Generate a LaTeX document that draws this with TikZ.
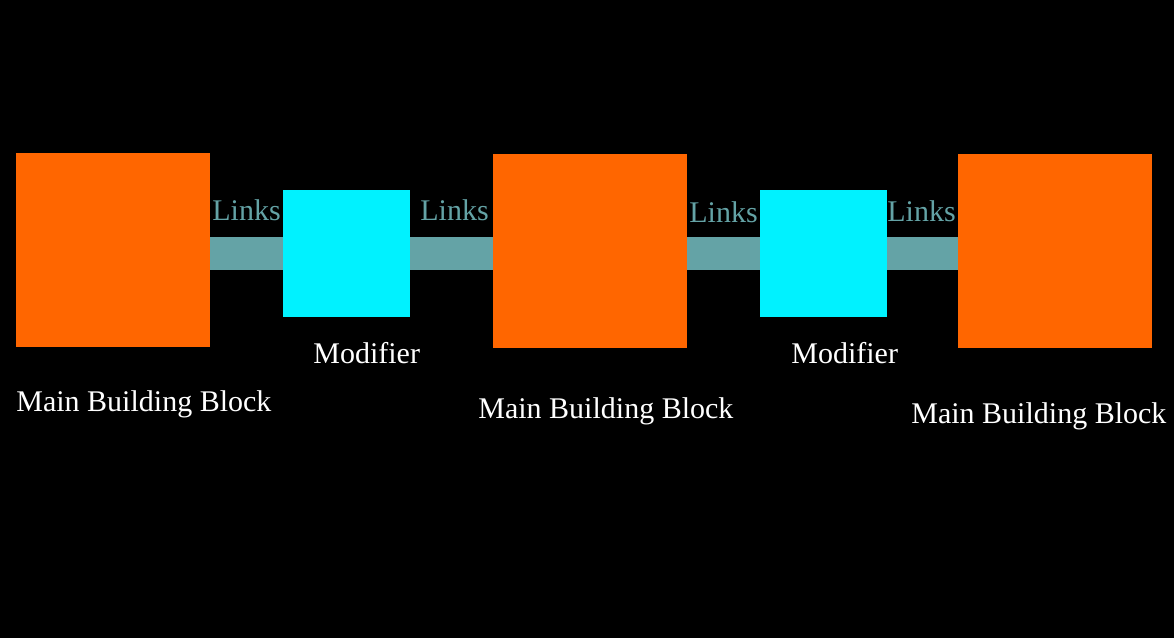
\documentclass[tikz,border=0pt]{standalone}
\usepackage{fontspec}
\setmainfont{Liberation Serif}
\definecolor{blockorange}{HTML}{FF6600}
\definecolor{modcyan}{HTML}{00F2FF}
\definecolor{linkteal}{HTML}{64A3A6}
\begin{document}
\begin{tikzpicture}[x=0.5pt,y=-0.5pt,
  mainblock/.style={fill=blockorange,draw=none,inner sep=0pt,outer sep=0pt,minimum size=97pt},
  modblock/.style={fill=modcyan,draw=none,inner sep=0pt,outer sep=0pt,minimum size=63.5pt},
  linkbar/.style={draw=linkteal,line width=16.5pt},
  lbl/.style={text=white,inner sep=0pt,anchor=base west,font=\fontsize{15}{18}\selectfont},
  linklbl/.style={text=linkteal,inner sep=0pt,anchor=base west,font=\fontsize{15}{18}\selectfont}]
\fill[black] (0,0) rectangle (1174,638);
\useasboundingbox (0,0) rectangle (1174,638);
\node[mainblock] (b1) at (113,250) {};
\node[mainblock] (b2) at (590,251) {};
\node[mainblock] (b3) at (1055,251) {};
\node[modblock] (m1) at (346.5,253.5) {};
\node[modblock] (m2) at (823.5,253.5) {};
\draw[linkbar] (b1.east |- m1.west) -- (m1.west);
\draw[linkbar] (m1.east) -- (b2.west |- m1.east);
\draw[linkbar] (b2.east |- m2.west) -- (m2.west);
\draw[linkbar] (m2.east) -- (b3.west |- m2.east);
\node[linklbl] (l1) at (212,220) {Links};
\node[linklbl] (l2) at (420,220) {Links};
\node[linklbl] (l3) at (689,222) {Links};
\node[linklbl] (l4) at (887,221) {Links};
\node[lbl] (t1) at (16,411) {Main Building Block};
\node[lbl] (t2) at (478,418) {Main Building Block};
\node[lbl] (t3) at (911,423) {Main Building Block};
\node[lbl] (t4) at (313,363) {Modifier};
\node[lbl] (t5) at (791,363) {Modifier};
\end{tikzpicture}
\end{document}
